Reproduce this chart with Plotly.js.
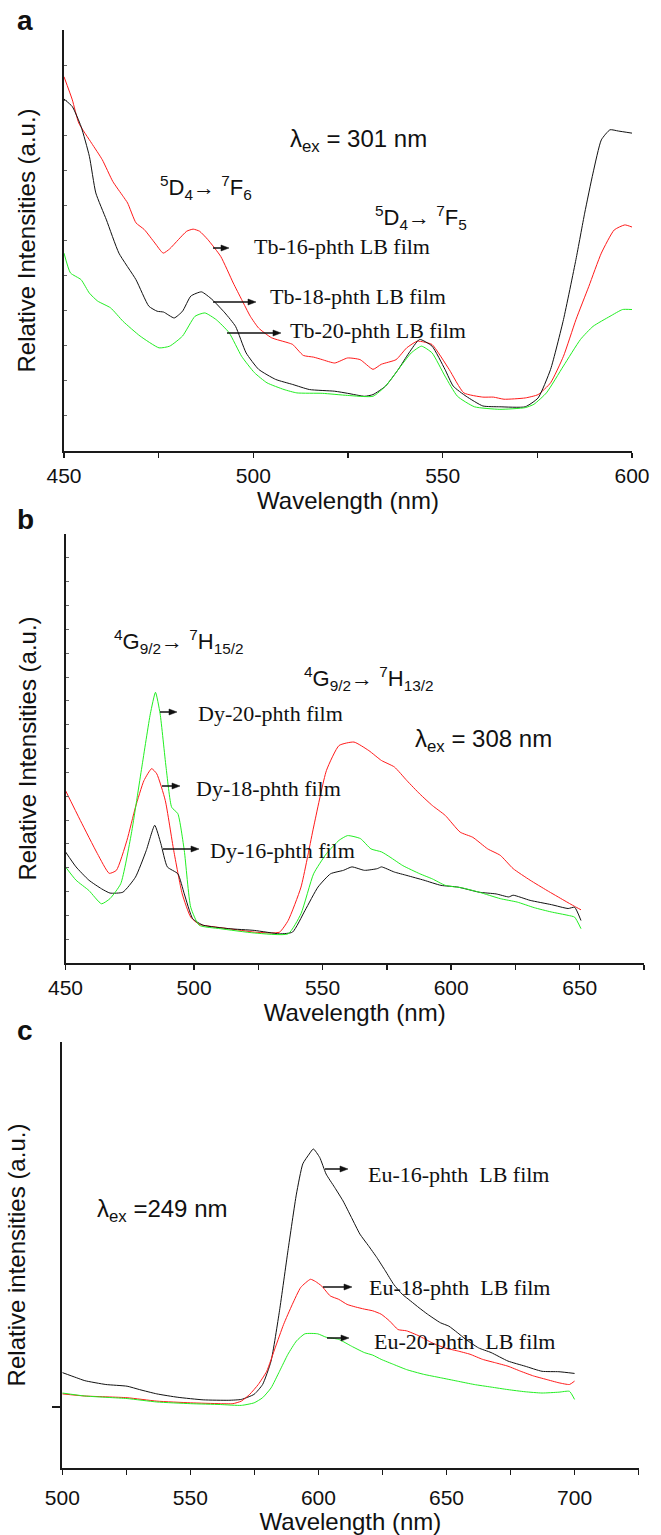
<!DOCTYPE html>
<html>
<head>
<meta charset="utf-8">
<script src="https://cdn.plot.ly/plotly-3.0.1.min.js"></script>
<style>
html,body{margin:0;padding:0;background:#fff;}
#chart{width:661px;height:1535px;}
</style>
</head>
<body>
<div id="chart"></div>
<script>
// ---------------- Panel a : Tb films (lambda_ex = 301 nm) ----------------
const tb16Wave = [450.0,452.2,453.9,457.3,460.1,462.9,465.6,466.8,469.0,471.2,474.0,476.2,477.9,480.2,482.4,484.1,485.8,488.0,491.4,494.7,496.9,499.2,501.4,504.8,509.2,510.4,513.2,515.9,518.2,521.5,524.9,528.2,531.6,533.8,537.7,540.5,543.3,545.0,547.2,551.7,555.6,560.6,563.4,566.2,571.8,575.2,578.5,581.9,585.2,588.6,591.9,595.3,598.1,600.0];
const tb16Int  = [88.9,83.4,77.9,73.1,69.2,64.0,60.5,58.9,54.2,52.6,49.4,47.0,48.0,50.2,52.2,52.7,52.2,50.2,46.2,39.9,36.0,32.0,29.2,26.9,25.7,25.3,22.7,22.3,21.7,20.9,22.1,21.7,19.4,20.6,21.7,24.5,26.1,25.9,25.3,19.4,13.8,12.8,12.8,12.3,12.6,13.4,16.2,22.5,31.2,39.1,47.0,52.5,53.7,53.2];

const tb18Wave = [450.0,452.2,454.5,456.7,458.4,461.2,464.5,469.0,472.4,474.6,476.3,479.1,481.3,483.5,486.3,489.1,492.5,495.3,498.1,501.4,505.9,510.4,514.8,521.5,524.9,529.4,531.6,534.9,538.3,541.1,543.9,547.2,550.6,552.8,556.2,560.6,565.1,571.8,575.2,578.5,581.9,585.2,587.5,589.7,591.9,594.2,596.4,600.0];
const tb18Int  = [83.6,81.8,77.1,70.0,61.3,54.9,47.0,40.7,34.4,33.2,33.0,31.6,33.2,36.8,37.8,36.0,32.8,29.6,23.3,19.4,17.0,15.8,14.6,14.2,13.7,13.0,13.4,15.4,19.4,23.3,26.5,24.9,19.4,15.4,13.0,10.7,10.5,10.5,12.6,19.4,31.2,45.5,56.5,66.0,73.9,76.3,76.0,75.5];

const tb20Wave = [450.0,451.7,454.5,456.7,458.9,462.3,465.6,470.1,475.1,477.9,481.3,484.6,487.2,490.2,493.6,496.9,500.3,503.6,508.1,511.5,518.2,524.9,531.6,534.9,538.3,541.7,544.4,547.2,550.6,553.9,558.4,565.1,571.8,574.1,577.4,581.9,586.4,589.7,594.2,597.5,600.0];
const tb20Int  = [47.0,42.3,40.7,37.5,35.6,34.0,30.8,27.3,24.5,24.9,27.3,32.0,32.8,31.2,28.1,22.5,18.6,16.2,14.6,13.8,13.7,13.2,13.0,15.4,19.4,23.3,24.9,23.3,17.8,13.0,10.5,9.9,10.3,11.1,13.8,20.2,26.5,29.6,32.0,33.6,33.6];

// ---------------- Panel b : Dy films (lambda_ex = 308 nm) ----------------
const dy18Wave = [450.0,455.8,462.4,467.0,469.8,473.9,477.2,480.5,483.5,485.5,488.8,492.1,495.4,498.7,502.0,506.9,513.5,523.4,530.0,533.3,536.6,541.6,546.5,551.5,556.4,562.2,568.0,572.9,577.9,582.8,587.8,592.7,597.7,603.5,608.4,614.2,619.1,624.1,630.7,637.3,643.9,648.0,650.5];
const dy18Int  = [40.2,33.2,25.5,20.9,21.6,28.6,36.3,42.5,45.3,44.1,37.9,26.2,16.1,10.7,9.0,8.5,8.0,7.2,7.0,7.2,9.9,17.7,31.7,44.9,50.7,51.5,49.5,47.2,45.7,42.5,39.4,36.7,34.4,30.5,29.3,26.6,25.1,22.0,19.3,16.9,14.6,13.2,12.4];

const dy20Wave = [450.0,454.1,459.1,464.0,467.3,471.5,475.6,479.7,483.0,485.0,486.8,489.1,491.3,493.7,496.2,498.7,502.0,510.2,523.4,536.6,541.6,546.5,551.5,556.4,559.7,564.7,568.8,572.9,576.2,581.2,587.8,592.7,597.7,604.3,610.9,619.1,625.7,632.3,638.9,645.5,648.0,650.5];
const dy20Int  = [22.4,19.3,16.9,13.8,15.0,18.5,30.1,45.7,58.1,63.1,58.1,45.7,36.3,34.8,26.2,13.0,8.8,8.0,7.0,6.8,11.5,20.8,25.5,28.6,29.7,29.0,26.6,25.9,24.7,22.7,20.8,19.6,18.1,17.5,16.5,15.0,14.2,12.9,11.9,11.1,10.7,8.0];

const dy16Wave = [450.0,454.1,459.1,464.0,467.3,472.3,477.2,481.4,484.7,487.1,489.6,493.7,496.2,499.5,503.6,513.5,523.4,533.3,538.3,543.2,548.2,553.1,558.1,561.4,566.3,571.3,572.9,577.9,582.8,589.4,596.0,602.6,610.9,617.5,622.4,624.1,630.7,639.0,645.5,648.0,650.5];
const dy16Int  = [25.9,22.4,19.3,17.3,16.3,16.5,20.0,26.2,32.1,27.8,22.4,20.8,16.1,10.3,8.8,8.0,7.6,6.8,7.2,12.3,17.7,20.8,21.6,22.4,21.6,22.0,22.4,21.2,20.4,19.3,18.1,17.7,16.5,16.1,15.4,15.8,14.6,13.6,12.7,13.0,9.9];

// ---------------- Panel c : Eu films (lambda_ex = 249 nm) ----------------
const eu16Wave = [500.0,505.5,508.8,517.0,525.3,530.2,536.9,545.1,555.0,565.0,569.9,574.9,578.2,581.5,584.8,588.1,591.4,593.9,596.4,598.0,600.5,603.0,606.3,609.6,612.9,616.2,619.5,622.8,626.1,629.4,632.7,636.0,639.3,642.6,647.6,650.9,654.2,657.5,662.5,667.4,674.0,680.7,687.3,693.9,700.0];
const eu16Int  = [22.4,21.2,20.5,19.6,19.2,18.4,17.4,16.6,16.0,15.9,16.1,17.3,19.6,25.1,36.9,51.0,64.3,71.4,73.7,74.9,72.9,69.0,65.9,62.7,58.8,54.9,52.2,49.4,46.3,43.1,40.8,39.2,37.6,36.1,34.1,33.3,31.8,30.2,28.2,27.1,25.1,23.9,22.7,22.6,22.2];

const eu18Wave = [500.0,508.8,525.3,536.9,550.1,561.7,566.6,569.9,573.2,576.5,579.8,583.1,586.4,589.8,593.1,596.9,598.8,601.3,604.6,607.9,611.2,614.5,617.9,621.2,624.5,627.8,631.1,634.4,639.3,644.3,649.3,654.2,659.2,664.1,669.1,674.0,679.0,684.0,688.9,693.9,698.0,700.0];
const eu18Int  = [17.4,16.9,16.5,15.7,15.3,15.1,15.1,15.7,17.3,19.6,22.7,28.2,33.7,38.4,42.4,44.3,43.8,42.7,40.4,39.6,38.4,37.8,37.3,36.9,36.1,34.5,32.5,32.2,31.0,29.4,28.2,27.5,26.7,25.5,24.7,23.9,22.7,21.6,20.8,20.0,19.6,20.4];

const eu20Wave = [500.0,508.8,525.3,536.9,550.1,561.7,569.9,574.9,578.2,581.5,584.8,588.1,591.4,594.7,599.7,603.0,607.9,612.9,617.9,621.2,624.5,629.4,634.4,641.0,647.6,654.2,660.8,667.4,674.0,680.7,687.3,693.9,698.0,700.0];
const eu20Int  = [17.6,16.9,16.3,15.5,15.1,14.9,14.7,15.3,16.5,18.8,22.7,26.7,29.8,31.5,31.5,30.7,30.2,28.6,27.1,26.5,25.5,24.3,23.1,22.0,21.2,20.4,19.6,19.0,18.4,17.9,17.6,17.8,18.0,16.1];

// ---------------- Ticks ----------------
const xLabelsA = [450,500,550,600];
const xMinorA  = [475,525,575];
const xLabelsB = [450,500,550,600,650];
const xMinorB  = [475,525,575,625,675];
const xLabelsC = [500,550,600,650,700];
const xMinorC  = [525,575,625,675,725];
const yTickC = [14.3];

// ---------------- Texts ----------------
const xTitle = 'Wavelength (nm)';
const yTitleAB = 'Relative Intensities (a.u.)';
const yTitleC = 'Relative intensities (a.u.)';

// ---------------- Layout helpers ----------------
const W = 661, H = 1535;
const px = x => x / W;
const py = y => 1 - y / H;
const SANS = '"Liberation Sans", Arial, Helvetica, sans-serif';
const SERIF = '"Liberation Serif", "Times New Roman", Times, serif';
const AXC = '#1a1a1a';
const RED = '#ff1a1a', BLK = '#111111', GRN = '#22ee22';

function line(x, y, color, xa, ya) {
  return {x: x, y: y, type: 'scatter', mode: 'lines', xaxis: xa, yaxis: ya,
          line: {color: color, width: 1, shape: 'spline', smoothing: 0.5},
          hoverinfo: 'skip'};
}

const data = [
  line(tb16Wave, tb16Int, RED, 'x', 'y'),
  line(tb18Wave, tb18Int, BLK, 'x', 'y'),
  line(tb20Wave, tb20Int, GRN, 'x', 'y'),
  line(dy18Wave, dy18Int, RED, 'x2', 'y2'),
  line(dy16Wave, dy16Int, BLK, 'x2', 'y2'),
  line(dy20Wave, dy20Int, GRN, 'x2', 'y2'),
  line(eu16Wave, eu16Int, BLK, 'x3', 'y3'),
  line(eu18Wave, eu18Int, RED, 'x3', 'y3'),
  line(eu20Wave, eu20Int, GRN, 'x3', 'y3')
];

function xAx(l, r, range, labels, minor, anchor, labelPad, titlePad) {
  return {
    domain: [px(l), px(r)], range: range, anchor: anchor,
    tickmode: 'array', tickvals: labels, ticktext: labels.map(String),
    ticks: 'outside', ticklen: 5, tickwidth: 1.5, tickcolor: AXC,
    ticklabelstandoff: labelPad,
    minor: {tickmode: 'array', tickvals: minor, ticks: 'outside', ticklen: 5,
            tickwidth: 1.5, tickcolor: AXC, showgrid: false},
    showline: true, linecolor: AXC, linewidth: 2,
    showgrid: false, zeroline: false, automargin: false,
    tickfont: {family: SANS, size: 21, color: '#111'},
    title: {text: xTitle, font: {family: SANS, size: 24, color: '#111'}, standoff: titlePad}
  };
}
function yAx(top, bottom, anchor, title, tickOpts) {
  return Object.assign({
    domain: [py(bottom), py(top)], range: [0, 100], anchor: anchor,
    showline: true, linecolor: AXC, linewidth: 2,
    showgrid: false, zeroline: false, automargin: false,
    showticklabels: false,
    title: {text: title, font: {family: SANS, size: 24, color: '#111'}, standoff: 20}
  }, tickOpts);
}

const layout = {
  width: W, height: H,
  margin: {l: 0, r: 0, t: 0, b: 0},
  paper_bgcolor: '#fff', plot_bgcolor: '#fff',
  showlegend: false,
  xaxis:  xAx(64, 632, [450, 600], xLabelsA, xMinorA, 'y', 0, 4),
  yaxis:  yAx(30, 451, 'x', yTitleAB, {ticks: 'inside', ticklen: 3, tickwidth: 1, tickcolor: '#666', tick0: 0, dtick: 100 / 12}),
  xaxis2: xAx(65.5, 644, [450, 675], xLabelsB, xMinorB, 'y2', 0, 4),
  yaxis2: yAx(534, 963, 'x2', yTitleAB, {ticks: 'inside', ticklen: 3, tickwidth: 1, tickcolor: '#666', tick0: 0, dtick: 100 / 18}),
  xaxis3: xAx(62.3, 638.6, [500, 725], xLabelsC, xMinorC, 'y3', 5, 5),
  yaxis3: yAx(1042, 1468, 'x3', yTitleC, {tickmode: 'array', tickvals: yTickC, ticks: 'outside', ticklen: 8, tickwidth: 1.5, tickcolor: AXC}),
  annotations: [],
  shapes: []
};

function txt(text, x, y, family, size, opts) {
  layout.annotations.push(Object.assign({
    text: text, xref: 'paper', yref: 'paper', x: px(x), y: py(y),
    xanchor: 'left', yanchor: 'middle', showarrow: false,
    font: {family: family, size: size, color: '#111'}
  }, opts || {}));
}
// label pointer: shaft + filled head, positioned in page pixels
function arrow(x0, x1, y) {
  const hl = 8, hh = 3;
  layout.shapes.push({
    type: 'line', xref: 'paper', yref: 'paper',
    x0: px(x0), y0: py(y), x1: px(x1 - hl + 1), y1: py(y),
    line: {color: '#111', width: 1.5}
  });
  layout.shapes.push({
    type: 'path', xref: 'paper', yref: 'paper',
    path: 'M' + px(x1) + ',' + py(y) + ' L' + px(x1 - hl) + ',' + py(y - hh) +
          ' L' + px(x1 - hl) + ',' + py(y + hh) + ' Z',
    fillcolor: '#111', line: {color: '#111', width: 0.5}
  });
}

// panel letters
txt('<b>a</b>', 25, 20, SANS, 28, {xanchor: 'center'});
txt('<b>b</b>', 25, 520, SANS, 28, {xanchor: 'center'});
txt('<b>c</b>', 25, 1030, SANS, 28, {xanchor: 'center'});

// panel a
txt('\u03bb<sub>ex</sub> = 301 nm', 288, 140, SANS, 24);
txt('<sup>5</sup>D<sub>4</sub>\u2192 <sup>7</sup>F<sub>6</sub>', 158, 188, SANS, 22);
txt('<sup>5</sup>D<sub>4</sub>\u2192 <sup>7</sup>F<sub>5</sub>', 373, 217, SANS, 22);
txt('Tb-16-phth LB film', 252, 247, SERIF, 22);
txt('Tb-18-phth LB film', 268, 297, SERIF, 22);
txt('Tb-20-phth LB film', 288, 330, SERIF, 22);
arrow(213, 229, 248);
arrow(213, 256, 302);
arrow(227, 281, 333);

// panel b
txt('<sup>4</sup>G<sub>9/2</sub>\u2192 <sup>7</sup>H<sub>15/2</sub>', 112, 641, SANS, 22);
txt('<sup>4</sup>G<sub>9/2</sub>\u2192 <sup>7</sup>H<sub>13/2</sub>', 302, 679, SANS, 22);
txt('Dy-20-phth film', 196, 713, SERIF, 22);
txt('Dy-18-phth film', 194, 788, SERIF, 22);
txt('Dy-16-phth film', 208, 850, SERIF, 22);
txt('\u03bb<sub>ex</sub> = 308 nm', 413, 740, SANS, 24);
arrow(160, 177, 712);
arrow(162, 180, 786);
arrow(163, 199, 849);

// panel c
txt('Eu-16-phth\u00a0 LB film', 366, 1174, SERIF, 22);
txt('Eu-18-phth\u00a0 LB film', 367, 1287, SERIF, 22);
txt('Eu-20-phth\u00a0 LB film', 372, 1341, SERIF, 22);
txt('\u03bb<sub>ex</sub> =249 nm', 95, 1210, SANS, 24);
arrow(325, 348, 1169);
arrow(323, 352, 1287);
arrow(327, 349, 1338);

Plotly.newPlot('chart', data, layout, {staticPlot: true, displayModeBar: false});
</script>
</body>
</html>
